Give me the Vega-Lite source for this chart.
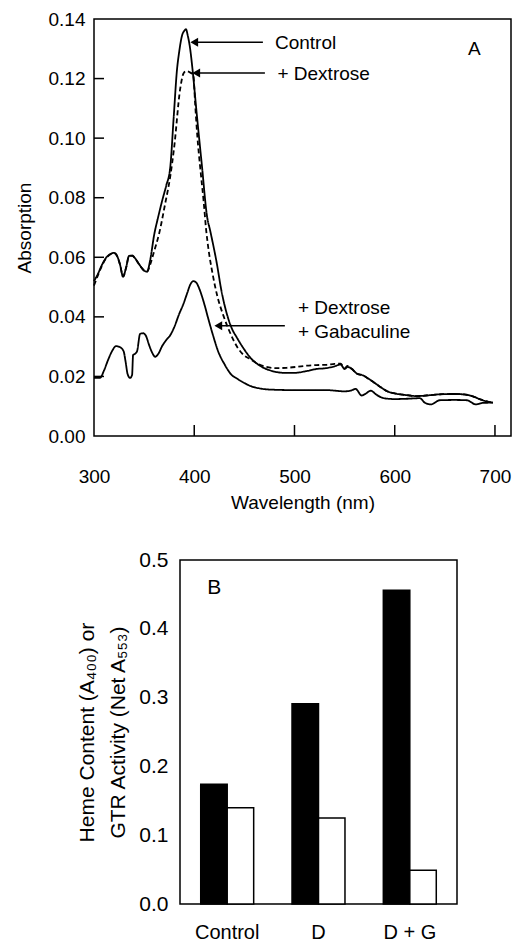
{
  "$schema": "https://vega.github.io/schema/vega-lite/v6.json",
  "padding": {"left": 14, "top": 9, "right": 0, "bottom": 0},
  "autosize": {"type": "pad"},
  "background": "white",
  "bounds": "flush",
  "spacing": 124,
  "config": {
    "font": "Liberation Sans",
    "view": {"stroke": "black", "strokeWidth": 1.5},
    "axis": {"domain": false, "grid": false, "ticks": false, "labelColor": "black", "titleColor": "black", "titleFontWeight": "normal", "labelFont": "Liberation Sans", "titleFont": "Liberation Sans", "labelOverlap": false, "labelFlush": false}
  },
  "vconcat": [
    {
      "width": 417,
      "height": 417,
      "layer": [
        {
          "data": {"values": [
            {"series":"Control","nm":300,"abs":0.052},{"series":"Control","nm":304,"abs":0.0545},{"series":"Control","nm":308,"abs":0.0575},{"series":"Control","nm":312,"abs":0.0598},{"series":"Control","nm":316,"abs":0.061},{"series":"Control","nm":320,"abs":0.0615},{"series":"Control","nm":323,"abs":0.0605},{"series":"Control","nm":326,"abs":0.0575},{"series":"Control","nm":329,"abs":0.0535},{"series":"Control","nm":332,"abs":0.0565},{"series":"Control","nm":335,"abs":0.0605},{"series":"Control","nm":338,"abs":0.0606},{"series":"Control","nm":342,"abs":0.0592},{"series":"Control","nm":346,"abs":0.0572},{"series":"Control","nm":350,"abs":0.0555},{"series":"Control","nm":353,"abs":0.0552},{"series":"Control","nm":356,"abs":0.059},{"series":"Control","nm":360,"abs":0.0675},{"series":"Control","nm":364,"abs":0.0735},{"series":"Control","nm":368,"abs":0.079},{"series":"Control","nm":372,"abs":0.084},{"series":"Control","nm":376,"abs":0.09},{"series":"Control","nm":379.5,"abs":0.107},{"series":"Control","nm":382.8,"abs":0.123},{"series":"Control","nm":385,"abs":0.129},{"series":"Control","nm":387.7,"abs":0.1343},{"series":"Control","nm":390,"abs":0.136},{"series":"Control","nm":391.7,"abs":0.1366},{"series":"Control","nm":393.5,"abs":0.1345},{"series":"Control","nm":396,"abs":0.1298},{"series":"Control","nm":398,"abs":0.124},{"series":"Control","nm":402.7,"abs":0.1074},{"series":"Control","nm":407.7,"abs":0.0906},{"series":"Control","nm":412.7,"abs":0.0739},{"series":"Control","nm":416,"abs":0.0688},{"series":"Control","nm":422.7,"abs":0.0576},{"series":"Control","nm":427,"abs":0.049},{"series":"Control","nm":432.6,"abs":0.0409},{"series":"Control","nm":437,"abs":0.0365},{"series":"Control","nm":442.6,"abs":0.033},{"series":"Control","nm":449,"abs":0.0295},{"series":"Control","nm":456,"abs":0.0263},{"series":"Control","nm":466,"abs":0.0235},{"series":"Control","nm":478,"abs":0.0218},{"series":"Control","nm":490,"abs":0.0212},{"series":"Control","nm":500,"abs":0.0212},{"series":"Control","nm":512,"abs":0.0218},{"series":"Control","nm":522,"abs":0.0225},{"series":"Control","nm":532,"abs":0.0228},{"series":"Control","nm":540,"abs":0.0234},{"series":"Control","nm":546,"abs":0.024},{"series":"Control","nm":550,"abs":0.0225},{"series":"Control","nm":553,"abs":0.0232},{"series":"Control","nm":557,"abs":0.0226},{"series":"Control","nm":562,"abs":0.021},{"series":"Control","nm":568,"abs":0.0204},{"series":"Control","nm":574,"abs":0.0192},{"series":"Control","nm":580,"abs":0.0178},{"series":"Control","nm":586,"abs":0.0164},{"series":"Control","nm":592,"abs":0.0151},{"series":"Control","nm":600,"abs":0.0143},{"series":"Control","nm":610,"abs":0.0138},{"series":"Control","nm":622,"abs":0.0134},{"series":"Control","nm":635,"abs":0.0137},{"series":"Control","nm":645,"abs":0.014},{"series":"Control","nm":658,"abs":0.0141},{"series":"Control","nm":668,"abs":0.014},{"series":"Control","nm":678,"abs":0.0133},{"series":"Control","nm":686,"abs":0.0122},{"series":"Control","nm":692,"abs":0.0116},{"series":"Control","nm":698,"abs":0.0112},
            {"series":"Dextrose","nm":300,"abs":0.0505},{"series":"Dextrose","nm":304,"abs":0.054},{"series":"Dextrose","nm":308,"abs":0.0572},{"series":"Dextrose","nm":312,"abs":0.0596},{"series":"Dextrose","nm":316,"abs":0.0609},{"series":"Dextrose","nm":320,"abs":0.0614},{"series":"Dextrose","nm":323,"abs":0.0604},{"series":"Dextrose","nm":326,"abs":0.0575},{"series":"Dextrose","nm":329,"abs":0.0535},{"series":"Dextrose","nm":332,"abs":0.0565},{"series":"Dextrose","nm":335,"abs":0.0604},{"series":"Dextrose","nm":338,"abs":0.0605},{"series":"Dextrose","nm":342,"abs":0.0591},{"series":"Dextrose","nm":346,"abs":0.0571},{"series":"Dextrose","nm":350,"abs":0.0556},{"series":"Dextrose","nm":353,"abs":0.0552},{"series":"Dextrose","nm":356,"abs":0.0575},{"series":"Dextrose","nm":360,"abs":0.062},{"series":"Dextrose","nm":365,"abs":0.068},{"series":"Dextrose","nm":371,"abs":0.078},{"series":"Dextrose","nm":376,"abs":0.087},{"series":"Dextrose","nm":380,"abs":0.097},{"series":"Dextrose","nm":386,"abs":0.1166},{"series":"Dextrose","nm":389.4,"abs":0.1218},{"series":"Dextrose","nm":392,"abs":0.1225},{"series":"Dextrose","nm":395,"abs":0.1222},{"series":"Dextrose","nm":399,"abs":0.1212},{"series":"Dextrose","nm":401,"abs":0.111},{"series":"Dextrose","nm":403,"abs":0.101},{"series":"Dextrose","nm":406,"abs":0.09},{"series":"Dextrose","nm":409.4,"abs":0.0787},{"series":"Dextrose","nm":412,"abs":0.0688},{"series":"Dextrose","nm":414,"abs":0.0632},{"series":"Dextrose","nm":418,"abs":0.055},{"series":"Dextrose","nm":423,"abs":0.047},{"series":"Dextrose","nm":429,"abs":0.0405},{"series":"Dextrose","nm":436,"abs":0.0345},{"series":"Dextrose","nm":443,"abs":0.0298},{"series":"Dextrose","nm":450,"abs":0.027},{"series":"Dextrose","nm":456,"abs":0.0258},{"series":"Dextrose","nm":462,"abs":0.0245},{"series":"Dextrose","nm":472,"abs":0.0232},{"series":"Dextrose","nm":482,"abs":0.0228},{"series":"Dextrose","nm":492,"abs":0.0229},{"series":"Dextrose","nm":502,"abs":0.0232},{"series":"Dextrose","nm":512,"abs":0.0236},{"series":"Dextrose","nm":522,"abs":0.0238},{"series":"Dextrose","nm":532,"abs":0.0239},{"series":"Dextrose","nm":540,"abs":0.0242},{"series":"Dextrose","nm":546,"abs":0.0243},{"series":"Dextrose","nm":550,"abs":0.0228},{"series":"Dextrose","nm":553,"abs":0.0235},{"series":"Dextrose","nm":557,"abs":0.0226},{"series":"Dextrose","nm":562,"abs":0.021},{"series":"Dextrose","nm":568,"abs":0.0204},{"series":"Dextrose","nm":574,"abs":0.0192},{"series":"Dextrose","nm":580,"abs":0.0178},{"series":"Dextrose","nm":586,"abs":0.0164},{"series":"Dextrose","nm":592,"abs":0.0151},{"series":"Dextrose","nm":600,"abs":0.0143},{"series":"Dextrose","nm":610,"abs":0.0138},{"series":"Dextrose","nm":622,"abs":0.0134},{"series":"Dextrose","nm":635,"abs":0.0137},{"series":"Dextrose","nm":645,"abs":0.014},{"series":"Dextrose","nm":658,"abs":0.0141},{"series":"Dextrose","nm":668,"abs":0.014},{"series":"Dextrose","nm":678,"abs":0.0133},{"series":"Dextrose","nm":686,"abs":0.0122},{"series":"Dextrose","nm":692,"abs":0.0116},{"series":"Dextrose","nm":698,"abs":0.0112},
            {"series":"Gabaculine","nm":300,"abs":0.0195},{"series":"Gabaculine","nm":306,"abs":0.0195},{"series":"Gabaculine","nm":310,"abs":0.022},{"series":"Gabaculine","nm":314,"abs":0.0255},{"series":"Gabaculine","nm":318,"abs":0.0285},{"series":"Gabaculine","nm":322,"abs":0.0302},{"series":"Gabaculine","nm":326,"abs":0.0298},{"series":"Gabaculine","nm":329.5,"abs":0.0285},{"series":"Gabaculine","nm":331.5,"abs":0.025},{"series":"Gabaculine","nm":333.5,"abs":0.0208},{"series":"Gabaculine","nm":336,"abs":0.0195},{"series":"Gabaculine","nm":338,"abs":0.0205},{"series":"Gabaculine","nm":339,"abs":0.0272},{"series":"Gabaculine","nm":341,"abs":0.0276},{"series":"Gabaculine","nm":343,"abs":0.0285},{"series":"Gabaculine","nm":346,"abs":0.0343},{"series":"Gabaculine","nm":349,"abs":0.0345},{"series":"Gabaculine","nm":352,"abs":0.0335},{"series":"Gabaculine","nm":355,"abs":0.0305},{"series":"Gabaculine","nm":358,"abs":0.028},{"series":"Gabaculine","nm":361,"abs":0.0266},{"series":"Gabaculine","nm":364,"abs":0.0275},{"series":"Gabaculine","nm":368,"abs":0.0302},{"series":"Gabaculine","nm":372,"abs":0.0322},{"series":"Gabaculine","nm":376,"abs":0.0338},{"series":"Gabaculine","nm":380,"abs":0.0365},{"series":"Gabaculine","nm":385,"abs":0.041},{"series":"Gabaculine","nm":389.4,"abs":0.0445},{"series":"Gabaculine","nm":393,"abs":0.048},{"series":"Gabaculine","nm":396,"abs":0.0508},{"series":"Gabaculine","nm":399,"abs":0.052},{"series":"Gabaculine","nm":402,"abs":0.0515},{"series":"Gabaculine","nm":405,"abs":0.0495},{"series":"Gabaculine","nm":409,"abs":0.0455},{"series":"Gabaculine","nm":414,"abs":0.0394},{"series":"Gabaculine","nm":419,"abs":0.0335},{"series":"Gabaculine","nm":424,"abs":0.0283},{"series":"Gabaculine","nm":430,"abs":0.0242},{"series":"Gabaculine","nm":437,"abs":0.0206},{"series":"Gabaculine","nm":443,"abs":0.0192},{"series":"Gabaculine","nm":450,"abs":0.0178},{"series":"Gabaculine","nm":456,"abs":0.0168},{"series":"Gabaculine","nm":465,"abs":0.016},{"series":"Gabaculine","nm":475,"abs":0.0156},{"series":"Gabaculine","nm":500,"abs":0.0154},{"series":"Gabaculine","nm":532,"abs":0.0154},{"series":"Gabaculine","nm":550,"abs":0.015},{"series":"Gabaculine","nm":556,"abs":0.0152},{"series":"Gabaculine","nm":561,"abs":0.0158},{"series":"Gabaculine","nm":567,"abs":0.0136},{"series":"Gabaculine","nm":571,"abs":0.0142},{"series":"Gabaculine","nm":576,"abs":0.0152},{"series":"Gabaculine","nm":582,"abs":0.0138},{"series":"Gabaculine","nm":589,"abs":0.0127},{"series":"Gabaculine","nm":600,"abs":0.0124},{"series":"Gabaculine","nm":612,"abs":0.0125},{"series":"Gabaculine","nm":625,"abs":0.0127},{"series":"Gabaculine","nm":630,"abs":0.0112},{"series":"Gabaculine","nm":636,"abs":0.0106},{"series":"Gabaculine","nm":645,"abs":0.012},{"series":"Gabaculine","nm":660,"abs":0.0121},{"series":"Gabaculine","nm":672,"abs":0.012},{"series":"Gabaculine","nm":681,"abs":0.0106},{"series":"Gabaculine","nm":688,"abs":0.0111},{"series":"Gabaculine","nm":698,"abs":0.0112}
          ]},
          "mark": {"type": "line", "color": "black", "strokeWidth": 1.8, "interpolate": "monotone"},
          "encoding": {
            "x": {"field": "nm", "type": "quantitative", "scale": {"domain": [300, 716], "nice": false, "zero": false},
                  "axis": {"title": "Wavelength (nm)", "values": [300, 400, 500, 600, 700], "labelFontSize": 19, "titleFontSize": 19, "labelPadding": 31, "titlePadding": 7}},
            "y": {"field": "abs", "type": "quantitative", "scale": {"domain": [0, 0.14], "nice": false, "zero": true},
                  "axis": {"title": "Absorption", "values": [0, 0.02, 0.04, 0.06, 0.08, 0.1, 0.12, 0.14], "format": ".2f", "labelFontSize": 19, "titleFontSize": 19, "labelPadding": 9, "titlePadding": 14}},
            "detail": {"field": "series", "type": "nominal"},
            "strokeDash": {"field": "series", "type": "nominal", "scale": {"domain": ["Control", "Dextrose", "Gabaculine"], "range": [[1, 0], [5, 3], [1, 0]]}, "legend": null}
          }
        },
        {
          "data": {"values": [{"nm": 400}, {"nm": 500}, {"nm": 600}, {"nm": 700}]},
          "mark": {"type": "rule", "color": "black", "strokeWidth": 1.5},
          "encoding": {"x": {"field": "nm", "type": "quantitative"}, "y": {"datum": 0, "type": "quantitative"}, "y2": {"datum": 0.0037}}
        },
        {
          "data": {"values": [{"abs": 0.02}, {"abs": 0.04}, {"abs": 0.06}, {"abs": 0.08}, {"abs": 0.1}, {"abs": 0.12}]},
          "mark": {"type": "rule", "color": "black", "strokeWidth": 1.5},
          "encoding": {"y": {"field": "abs", "type": "quantitative"}, "x": {"datum": 300, "type": "quantitative"}, "x2": {"datum": 310}}
        },
        {
          "data": {"values": [
            {"nm": 400, "nm2": 468.5, "abs": 0.1322},
            {"nm": 402, "nm2": 470.5, "abs": 0.1219},
            {"nm": 424, "nm2": 490.4, "abs": 0.037}
          ]},
          "mark": {"type": "rule", "color": "black", "strokeWidth": 1.5},
          "encoding": {"x": {"field": "nm", "type": "quantitative"}, "x2": {"field": "nm2"}, "y": {"field": "abs", "type": "quantitative"}}
        },
        {
          "data": {"values": [
            {"nm": 400, "abs": 0.1322},
            {"nm": 402, "abs": 0.1219},
            {"nm": 424, "abs": 0.037}
          ]},
          "mark": {"type": "point", "shape": "triangle-left", "filled": true, "color": "black", "size": 80, "opacity": 1},
          "encoding": {"x": {"field": "nm", "type": "quantitative"}, "y": {"field": "abs", "type": "quantitative"}}
        },
        {
          "data": {"values": [
            {"nm": 480.5, "abs": 0.1318, "label": "Control"},
            {"nm": 483, "abs": 0.1217, "label": "+ Dextrose"},
            {"nm": 673, "abs": 0.1299, "label": "A"},
            {"nm": 503.4, "abs": 0.043, "label": "+ Dextrose"},
            {"nm": 503.4, "abs": 0.0349, "label": "+ Gabaculine"}
          ]},
          "mark": {"type": "text", "align": "left", "baseline": "middle", "fontSize": 19, "color": "black"},
          "encoding": {"x": {"field": "nm", "type": "quantitative"}, "y": {"field": "abs", "type": "quantitative"}, "text": {"field": "label"}}
        }
      ]
    },
    {
      "spacing": 0,
      "bounds": "flush",
      "hconcat": [
        {
          "width": 86,
          "height": 10,
          "view": {"stroke": null},
          "data": {"values": []},
          "mark": "point"
        },
        {
          "width": 277,
          "height": 344,
          "layer": [
            {
              "data": {"values": [
                {"group": "Control", "measure": "Heme", "value": 0.174},
                {"group": "Control", "measure": "GTR", "value": 0.140},
                {"group": "D", "measure": "Heme", "value": 0.291},
                {"group": "D", "measure": "GTR", "value": 0.125},
                {"group": "D + G", "measure": "Heme", "value": 0.456},
                {"group": "D + G", "measure": "GTR", "value": 0.049}
              ]},
              "mark": {"type": "bar", "stroke": "black", "strokeWidth": 1.5},
              "encoding": {
                "x": {"field": "group", "type": "nominal", "sort": ["Control", "D", "D + G"], "scale": {"paddingInner": 0.42, "paddingOuter": 0.227},
                      "axis": {"title": null, "labelAngle": 0, "labelFontSize": 20, "labelPadding": 18}},
                "xOffset": {"field": "measure", "type": "nominal", "sort": ["Heme", "GTR"], "scale": {"paddingInner": 0, "paddingOuter": 0}},
                "y": {"field": "value", "type": "quantitative", "scale": {"domain": [0, 0.5], "nice": false},
                      "axis": {"title": ["Heme Content (A₄₀₀) or", "GTR Activity (Net A₅₅₃)"], "values": [0, 0.1, 0.2, 0.3, 0.4, 0.5], "format": ".1f", "labelFontSize": 21, "titleFontSize": 21, "titleLineHeight": 31, "labelPadding": 12, "titlePadding": 10}},
                "fill": {"field": "measure", "type": "nominal", "scale": {"domain": ["Heme", "GTR"], "range": ["black", "white"]}, "legend": null}
              }
            },
            {
              "data": {"values": [{"group": "Control", "value": 0.4586, "label": "B"}]},
              "mark": {"type": "text", "dx": -13, "fontSize": 21, "color": "black", "baseline": "middle"},
              "encoding": {"x": {"field": "group", "type": "nominal", "sort": ["Control", "D", "D + G"]}, "y": {"field": "value", "type": "quantitative"}, "text": {"field": "label"}}
            }
          ]
        }
      ]
    }
  ]
}
